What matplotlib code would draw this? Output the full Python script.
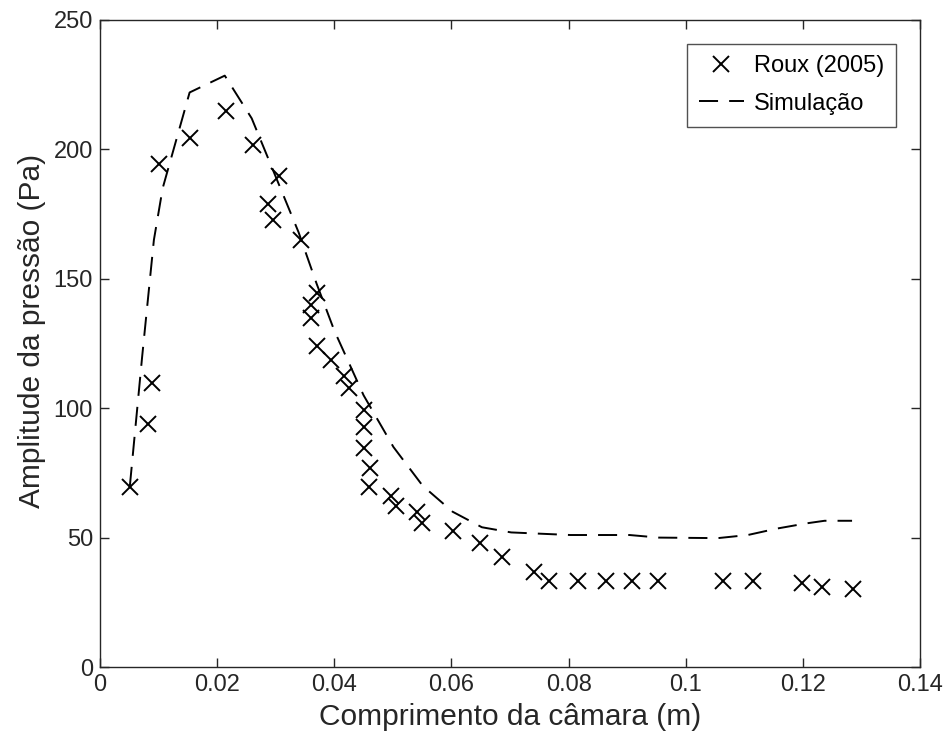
import matplotlib
matplotlib.use("Agg")
import matplotlib.pyplot as plt

plt.rcParams['font.family'] = ['Liberation Sans', 'DejaVu Sans']

# Roux (2005) experimental points
roux_x = [0.0051, 0.0082, 0.0088, 0.0100, 0.0154, 0.0215, 0.0261, 0.0287, 0.0295, 0.0306,
          0.0344, 0.0370, 0.0361, 0.0360, 0.0370, 0.0395, 0.0417, 0.0425, 0.0451, 0.0451,
          0.0451, 0.0461, 0.0460, 0.0497, 0.0505, 0.0542, 0.0550, 0.0602, 0.0649, 0.0687,
          0.0741, 0.0767, 0.0816, 0.0864, 0.0908, 0.0952, 0.1063, 0.1115, 0.1198, 0.1233,
          0.1286]
roux_y = [69.5, 93.9, 109.7, 194.4, 204.4, 214.8, 201.7, 178.9, 172.7, 189.7,
          165.0, 144.5, 139.9, 134.9, 124.2, 118.6, 112.4, 107.8, 99.3, 92.6,
          84.7, 76.8, 69.4, 66.2, 62.3, 60.0, 55.8, 52.7, 47.8, 42.5,
          36.8, 33.2, 33.2, 33.2, 33.2, 33.2, 33.2, 33.2, 32.5, 31.0,
          30.0]

# Simulation curve
sim_x = [0.0051, 0.0072, 0.0092, 0.0107, 0.0153, 0.0213, 0.0259, 0.0299, 0.0339, 0.0370,
         0.0400, 0.0450, 0.0501, 0.0551, 0.0602, 0.0652, 0.0702, 0.0803, 0.0904, 0.0954,
         0.1055, 0.1106, 0.1156, 0.1206, 0.1237, 0.1284]
sim_y = [70.0, 120.0, 165.0, 185.0, 222.0, 228.5, 212.0, 190.0, 168.0, 148.0,
         130.0, 105.0, 85.0, 70.0, 60.0, 54.0, 52.0, 51.0, 51.0, 50.0,
         49.8, 51.0, 53.5, 55.5, 56.5, 56.5]

fig = plt.figure(figsize=(9.49, 7.51), dpi=100)
ax = fig.add_axes([100 / 949, 1 - 667 / 751, 820 / 949, 647 / 751])

ax.plot(roux_x, roux_y, 'x', color='black', markersize=12, markeredgewidth=1.4,
        label='Roux (2005)')
ax.plot(sim_x, sim_y, '--', color='black', linewidth=1.4, dashes=(9.8, 5.7),
        label='Simulação')

ax.set_xlim(0, 0.14)
ax.set_ylim(0, 250)
ax.set_xticks([0, 0.02, 0.04, 0.06, 0.08, 0.1, 0.12, 0.14])
ax.set_xticklabels(['0', '0.02', '0.04', '0.06', '0.08', '0.1', '0.12', '0.14'])
ax.set_yticks([0, 50, 100, 150, 200, 250])
ax.tick_params(direction='in', length=6.5, width=1, labelsize=17, top=True, right=True,
               colors='#262626', labelcolor='#262626', pad=5)
for s in ax.spines.values():
    s.set_color('#262626')
    s.set_linewidth(1)

ax.set_xlabel('Comprimento da câmara (m)', fontsize=21.5, color='#262626', labelpad=5)
ax.set_ylabel('Amplitude da pressão (Pa)', fontsize=21.5, color='#262626')
ax.yaxis.set_label_coords(-0.066, 0.52)

leg = ax.legend(loc='upper right', fontsize=17, frameon=True, fancybox=False,
                edgecolor='#262626', handlelength=1.9, borderpad=0.5,
                labelspacing=0.65, handletextpad=0.45, borderaxespad=1.0)
leg.get_frame().set_linewidth(1)

fig.savefig('out.png', dpi=100)
